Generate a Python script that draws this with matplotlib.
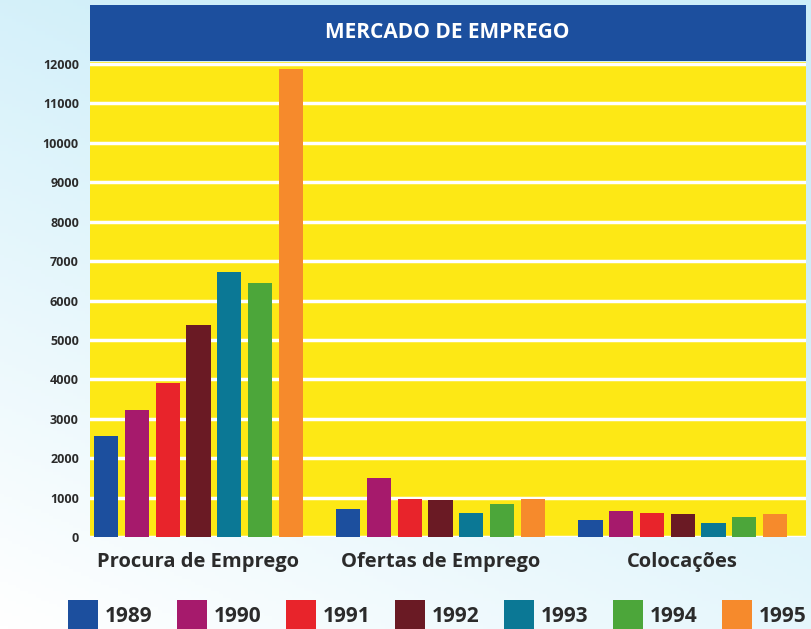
import numpy as np
import matplotlib
matplotlib.use("Agg")
import matplotlib.pyplot as plt
from matplotlib.patches import Rectangle

# data
categorias = ["Procura de Emprego", "Ofertas de Emprego", "Colocações"]
anos = ["1989", "1990", "1991", "1992", "1993", "1994", "1995"]
procura = [2560, 3220, 3900, 5380, 6720, 6450, 11880]
ofertas = [710, 1500, 980, 950, 620, 840, 960]
colocacoes = [440, 670, 610, 600, 370, 520, 590]
cores = ["#1c4f9e", "#a61a6c", "#e8242b", "#6a1a24", "#0b7895", "#4ca63a", "#f68a2c"]
yticks = list(range(0, 13000, 1000))

plt.rcParams['font.family'] = ['Open Sans', 'DejaVu Sans']

fig = plt.figure(figsize=(8.11, 6.29), dpi=100)

# background: white top-left fading into light blue
bg = fig.add_axes([0, 0, 1, 1], zorder=-10)
yy, xx = np.mgrid[0:1:200j, 0:1:200j]
t = np.clip(1.4 * (1 - yy) * 0.6 + xx * 0.5, 0, 1)
bg.imshow(t, cmap=matplotlib.colors.LinearSegmentedColormap.from_list("bg", ["#ffffff", "#cdeef9"]),
          extent=[0, 1, 0, 1], aspect="auto", origin="upper")
bg.axis("off")

ax = fig.add_axes([0.111, 0.146, 0.883, 0.7554])
ax.set_facecolor("#fde815")

valores = np.array([procura, ofertas, colocacoes])
x = np.arange(len(categorias))
passo = 0.127
largura = 0.1
for i in range(len(anos)):
    ax.bar(x + (i - 3) * passo, valores[:, i], width=largura, color=cores[i], zorder=3)

ax.set_ylim(0, 12050)
ax.set_xlim(-0.448, 2.51)
ax.set_yticks(yticks)
ax.set_yticklabels([str(v) for v in yticks], fontsize=9, fontweight="bold", color="#2b2b2b")
ax.yaxis.grid(True, color="white", linewidth=2.5, zorder=1)
ax.set_axisbelow(True)
ax.tick_params(axis="y", length=0, pad=8)
ax.set_xticks(x)
ax.set_xticklabels(categorias, fontsize=14.5, fontweight="bold", color="#2b2b2b")
ax.tick_params(axis="x", length=0, pad=11)
for s in ax.spines.values():
    s.set_visible(False)

# header band
fig.patches.append(Rectangle((0.111, 0.903), 0.883, 0.089, transform=fig.transFigure,
                             facecolor="#1c4f9e", edgecolor="none", zorder=2))
fig.text(0.552, 0.948, "MERCADO DE EMPREGO", color="white", fontsize=15, fontweight="bold",
         ha="center", va="center")

# legend drawn by hand along the bottom
for i, ano in enumerate(anos):
    x0 = (68 + i * 109) / 811
    fig.patches.append(Rectangle((x0, -0.02), 30 / 811, 0.066, transform=fig.transFigure,
                                 facecolor=cores[i], edgecolor="none"))
    fig.text(x0 + 37 / 811, 0.02, ano, fontsize=15, fontweight="bold", color="#2b2b2b",
             ha="left", va="center")

fig.savefig("out.png", dpi=100)
